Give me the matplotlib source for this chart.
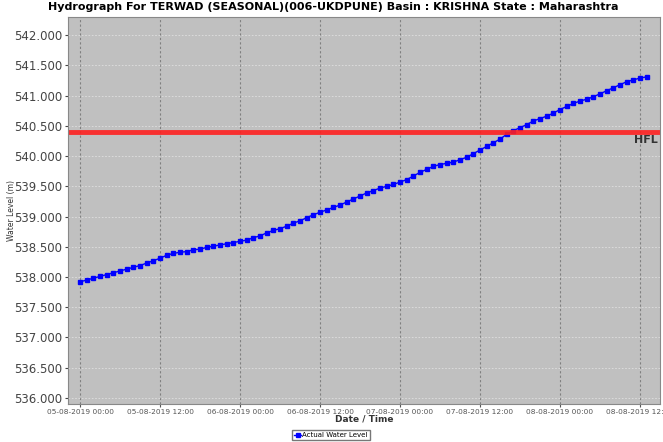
import matplotlib
matplotlib.use("AGG")
import matplotlib.pyplot as plt
import matplotlib.dates as mdates
import numpy as np
import pandas as pd

# 1時間ごとの水位（05-08-2019 00:00 から）
start = "2019-08-05 00:00"
levels = [
    537.92, 537.95, 537.98, 538.01, 538.04, 538.07, 538.10, 538.13, 538.16, 538.19,
    538.23, 538.27, 538.31, 538.36, 538.39, 538.41, 538.42, 538.45, 538.46, 538.49,
    538.51, 538.53, 538.55, 538.57, 538.59, 538.61, 538.65, 538.68, 538.73, 538.77,
    538.80, 538.84, 538.89, 538.93, 538.98, 539.03, 539.07, 539.11, 539.15, 539.19,
    539.24, 539.29, 539.34, 539.39, 539.43, 539.47, 539.50, 539.53, 539.57, 539.61,
    539.67, 539.73, 539.78, 539.83, 539.86, 539.88, 539.90, 539.94, 539.98, 540.04,
    540.10, 540.16, 540.22, 540.28, 540.36, 540.42, 540.47, 540.52, 540.58, 540.62,
    540.66, 540.71, 540.77, 540.82, 540.87, 540.91, 540.94, 540.98, 541.03, 541.08,
    541.13, 541.18, 541.23, 541.26, 541.29, 541.31,
]
hfl = 540.39
times = pd.date_range(start, periods=len(levels), freq="h")

fig = plt.figure(figsize=(6.63, 4.42), dpi=100)
ax = fig.add_axes([68 / 663, 1 - 404 / 442, 592 / 663, 387 / 442])
ax.set_facecolor("#c0c0c0")

ax.plot(times, levels, color="#0000ff", lw=1, marker="s", ms=3.0,
        label="Actual Water Level")
ax.axhline(hfl, color="#ff2020", lw=3.5, alpha=0.9)

t0 = pd.Timestamp(start)
ax.set_xlim(t0 - pd.Timedelta(hours=1.8), t0 + pd.Timedelta(hours=87))
ax.set_ylim(535.9, 542.3)
ax.set_yticks(np.arange(536.0, 542.01, 0.5))
ax.yaxis.set_major_formatter(matplotlib.ticker.FormatStrFormatter("%.3f"))
ax.xaxis.set_major_locator(mdates.HourLocator(byhour=[0, 12]))
ax.xaxis.set_major_formatter(mdates.DateFormatter("%d-%m-%Y %H:%M"))

ax.tick_params(axis="y", labelsize=8.5, colors="#444444", length=2, pad=2)
ax.tick_params(axis="x", labelsize=5.3, colors="#555555", length=2, pad=1.5)

ax.grid(axis="x", color="#808080", ls=(0, (2, 2)), lw=0.8)
ax.grid(axis="y", color="#e0e0e0", ls=(0, (2, 2)), lw=0.6)
for s in ax.spines.values():
    s.set_color("#888888")

ax.text(0.997, hfl - 0.04, "HFL", transform=ax.get_yaxis_transform(),
        ha="right", va="top", fontsize=8, fontweight="bold", color="#333333")

fig.suptitle("Hydrograph For TERWAD (SEASONAL)(006-UKDPUNE) Basin : KRISHNA State : Maharashtra",
             x=333 / 663, y=1 - 7 / 442, va="center", fontsize=8.0, fontweight="bold")
ax.set_xlabel("Date / Time", fontsize=6.5, fontweight="bold", color="#333333")
ax.xaxis.set_label_coords(0.5, -(419 - 404) / 387, transform=ax.transAxes)
ax.xaxis.label.set_va("center")
ax.set_ylabel("Water Level (m)", fontsize=5.5, color="#333333")
ax.yaxis.set_label_coords((12 - 68) / 592, 0.5)
ax.yaxis.label.set_va("center")

fig.legend(loc="center", bbox_to_anchor=(331 / 663, 1 - 435 / 442), fontsize=5,
           fancybox=False, edgecolor="#555555", handlelength=1, handletextpad=0.2,
           borderpad=0.3, markerscale=0.8)

fig.savefig("out.png", dpi=100)
